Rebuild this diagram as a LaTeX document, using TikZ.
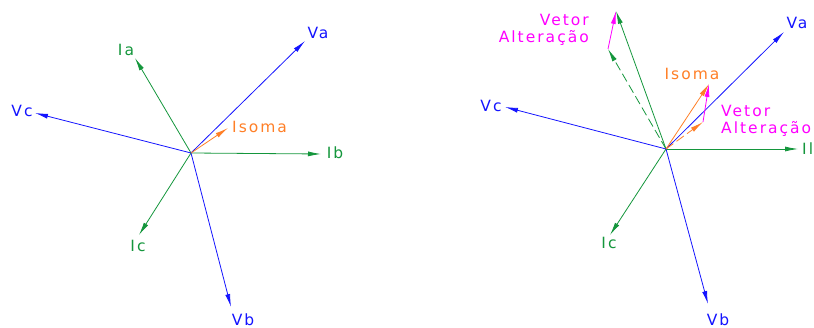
\documentclass[tikz,border=0pt]{standalone}
\usepackage{fontspec}
\setmainfont{DejaVu Sans}[LetterSpace=13]
\usetikzlibrary{arrows.meta}
\definecolor{phv}{RGB}{20,20,255}
\definecolor{phi}{RGB}{20,150,60}
\definecolor{sumc}{RGB}{255,127,39}
\definecolor{chg}{RGB}{255,0,255}
\tikzset{
  vec/.style={line width=0.8pt,-{Latex[length=13pt,width=5pt]}},
  lbl/.style={inner sep=0pt,font=\fontsize{15.5}{17}\selectfont},
  vlt/.style={vec,draw=phv},
  cur/.style={vec,draw=phi},
  som/.style={vec,draw=sumc},
  alt/.style={vec,draw=chg},
}
\begin{document}
\begin{tikzpicture}[x=1pt,y=-1pt]
\useasboundingbox (0,0) rectangle (814,328);

% ---- left diagram: balanced phasors ----
\coordinate (O1) at (191,153);
\coordinate (va1) at (305,41);
\coordinate (vb1) at (231,307);
\coordinate (vc1) at (35,113);
\coordinate (ia1) at (135,58);
\coordinate (ib1) at (321,154);
\coordinate (ic1) at (139,235);
\coordinate (is1) at (228,128);

\draw[cur] (O1) -- (ia1);
\draw[cur] (O1) -- (ib1);
\draw[cur] (O1) -- (ic1);
\draw[vlt] (O1) -- (va1);
\draw[vlt] (O1) -- (vb1);
\draw[vlt] (O1) -- (vc1);
\draw[som] (O1) -- (is1);

\node[lbl,text=phv] (Lva1) at (318,33) {Va};
\node[lbl,text=phv] (Lvb1) at (243,320) {Vb};
\node[lbl,text=phv] (Lvc1) at (22,111) {Vc};
\node[lbl,text=phi] (Lia1) at (126,50) {Ia};
\node[lbl,text=phi] (Lib1) at (335,153) {Ib};
\node[lbl,text=phi] (Lic1) at (138,246) {Ic};
\node[lbl,text=sumc,anchor=west] (Lis1) at (232,127) {Isoma};

% ---- right diagram: phasors after the change ----
\coordinate (O2) at (666,149);
\coordinate (va2) at (784,32);
\coordinate (vb2) at (708,304);
\coordinate (vc2) at (505,107);
\coordinate (ia2) at (616,11);
\coordinate (ia0) at (608,49);
\coordinate (il2) at (798,149);
\coordinate (ic2) at (610,235);
\coordinate (is0) at (703,122);
\coordinate (is2) at (709,84);

\draw[cur] (O2) -- (ia2);
\draw[cur,dashed,dash pattern=on 9pt off 4pt] (O2) -- (ia0);
\draw[cur] (O2) -- (il2);
\draw[cur] (O2) -- (ic2);
\draw[vlt] (O2) -- (va2);
\draw[vlt] (O2) -- (vb2);
\draw[vlt] (O2) -- (vc2);
\draw[som,dashed,dash pattern=on 9pt off 4pt] (O2) -- (is0);
\draw[som] (O2) -- (is2);
\draw[alt] (ia0) -- (ia2);
\draw[alt] (is0) -- (is2);

\node[lbl,text=phv] (Lva2) at (797,23) {Va};
\node[lbl,text=phv] (Lvb2) at (718,320) {Vb};
\node[lbl,text=phv] (Lvc2) at (491,106) {Vc};
\node[lbl,text=phi,anchor=west] (Lil2) at (802,149) {Il};
\node[lbl,text=phi] (Lic2) at (609,243) {Ic};
\node[lbl,text=sumc] (Lis2) at (692,74) {Isoma};
\node[lbl,text=chg,align=right,anchor=east] (Lat2) at (589,30) {Vetor\\Alteração};
\node[lbl,text=chg,align=left,anchor=west] (Lal2) at (721,121) {Vetor\\Alteração};
\end{tikzpicture}
\end{document}
